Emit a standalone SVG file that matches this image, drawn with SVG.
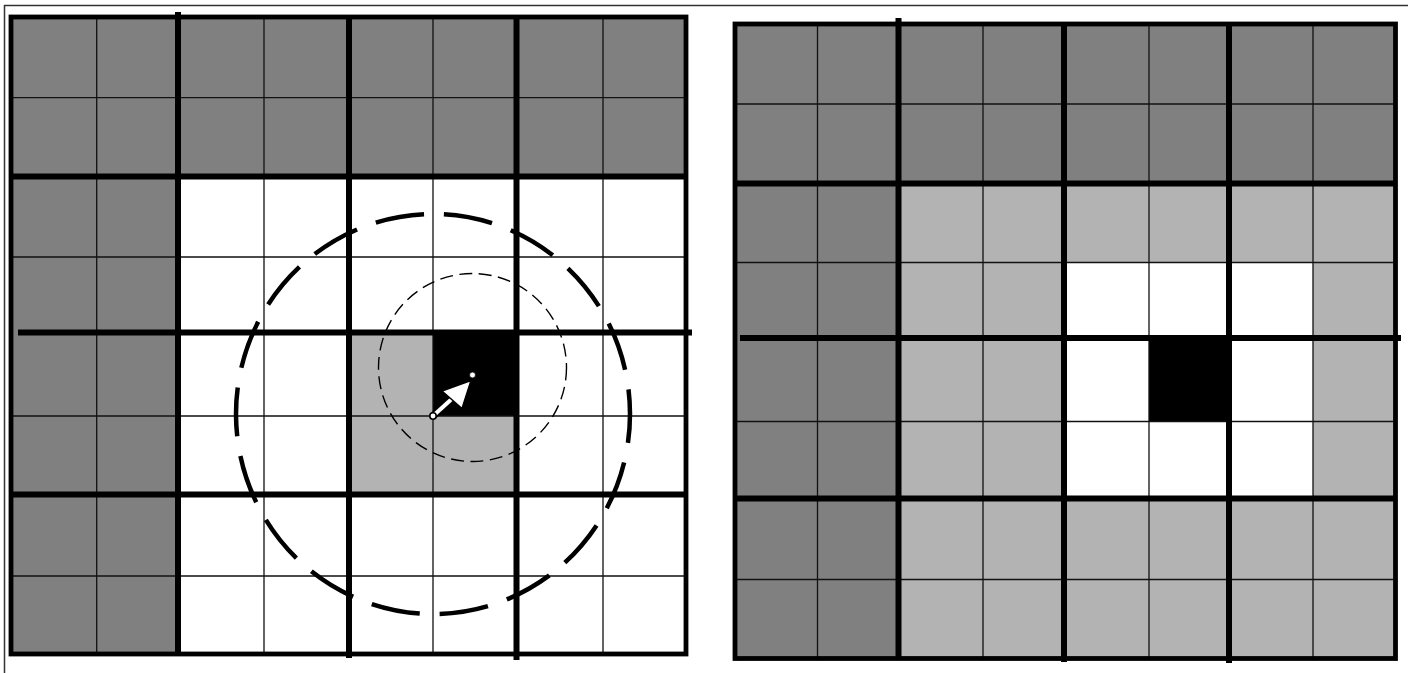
<svg xmlns="http://www.w3.org/2000/svg" width="1408" height="673" viewBox="0 0 1408 673">
  <style>
    .dark { fill: #808080; }
    .light { fill: #b3b3b3; }
    .white { fill: #ffffff; }
    .black { fill: #000000; }
    .thin { stroke: #111111; stroke-width: 1.3; fill: none; }
    .thick { stroke: #000000; stroke-width: 6; fill: none; }
    .border { stroke: #000000; stroke-width: 4.8; fill: none; }
    .frame { stroke: #333333; stroke-width: 1.5; fill: none; }
  </style>
  <rect x="0" y="0" width="1408" height="673" fill="#ffffff"/>
  <g id="frame">
    <line class="frame" x1="4" y1="5.5" x2="1408" y2="5.5"/>
    <line class="frame" x1="4.5" y1="5" x2="4.5" y2="673"/>
  </g>

  <g id="left-grid">
    <rect class="white" x="11" y="17" width="675" height="637"/>
    <rect class="dark" x="11" y="17" width="675" height="159.5"/>
    <rect class="dark" x="11" y="176.5" width="167" height="477.5"/>
    <rect class="light" x="349" y="332.5" width="84" height="162"/>
    <rect class="light" x="433" y="416" width="83.5" height="78.5"/>
    <rect class="black" x="433" y="332.5" width="83.5" height="83.5"/>
    <path class="thin" d="M96.7 17V654M264 17V654M433 17V654M603 17V654M11 97.7H686M11 257H686M11 416H686M11 576H686"/>
    <path class="thick" d="M178 12V654M349 17V658M516.5 17V660M11 176.5H686M18 332.5H692M11 494.5H686"/>
    <rect class="border" x="11" y="17" width="675" height="637"/>
  </g>

  <g id="circles">
    <ellipse cx="433" cy="414" rx="197" ry="200" fill="none" stroke="#000" stroke-width="4.5" stroke-dasharray="49 20" stroke-dashoffset="20"/>
    <circle cx="472.5" cy="367.5" r="94" fill="none" stroke="#000" stroke-width="1.4" stroke-dasharray="13 6.5"/>
  </g>

  <g id="arrow">
    <line x1="433" y1="416" x2="454" y2="397" stroke="#000" stroke-width="7.5"/>
    <line x1="433" y1="416" x2="455" y2="396" stroke="#fff" stroke-width="4"/>
    <polygon points="471,380.5 442,391 462,408.5" fill="#fff" stroke="#000" stroke-width="1.5" stroke-linejoin="miter"/>
    <circle cx="433" cy="416" r="3.2" fill="#fff" stroke="#000" stroke-width="1.6"/>
    <circle cx="472.5" cy="375" r="3" fill="#fff" stroke="#000" stroke-width="0.8"/>
  </g>

  <g id="right-grid">
    <rect class="light" x="735" y="24" width="660.5" height="634.5"/>
    <rect class="dark" x="735" y="24" width="660.5" height="159.5"/>
    <rect class="dark" x="735" y="183.5" width="163.5" height="475"/>
    <rect class="white" x="1064" y="262.5" width="249" height="236"/>
    <rect class="black" x="1149" y="338" width="80" height="83.5"/>
    <path class="thin" d="M817.5 24V658.5M983 24V658.5M1149 24V658.5M1313 24V658.5M735 104H1395.5M735 262.5H1395.5M735 421.5H1395.5M735 579.5H1395.5"/>
    <path class="thick" d="M898.5 18V658.5M1064 24V662M1229 24V663M735 183.5H1395.5M740 338H1401M735 498.5H1395.5"/>
    <rect class="border" x="735" y="24" width="660.5" height="634.5"/>
  </g>
</svg>
